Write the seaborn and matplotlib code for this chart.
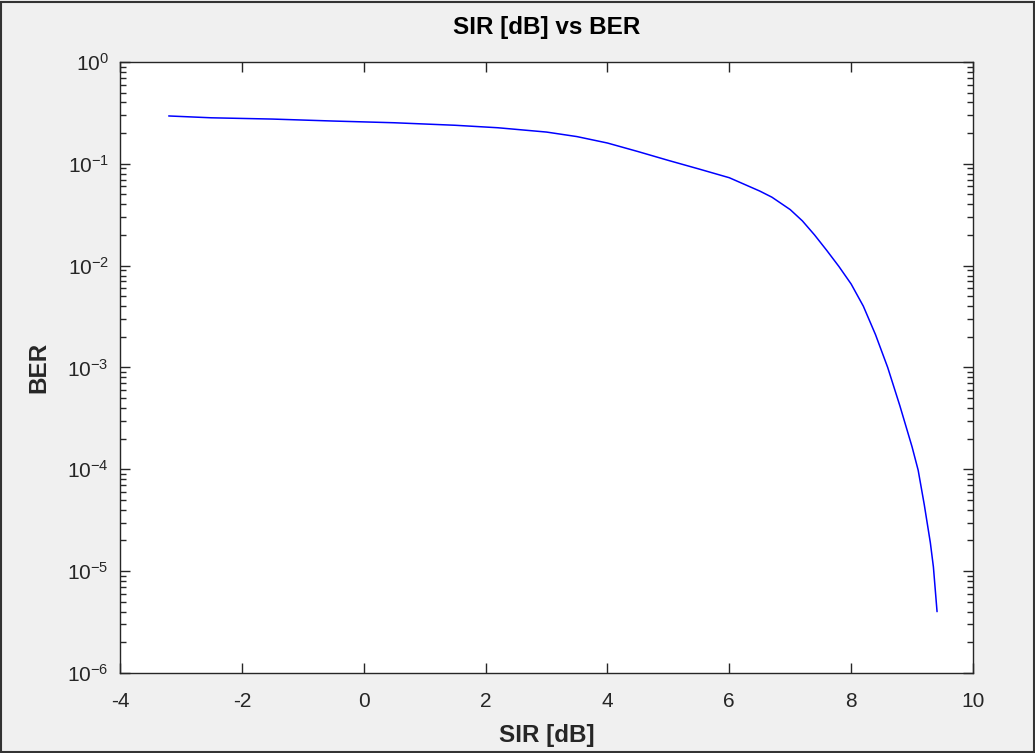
# SIR vs BER curve, MATLAB-style figure
import numpy as np
import pandas as pd
import seaborn as sns
import matplotlib.pyplot as plt
from matplotlib.patches import Rectangle

# values
sir_db = [-3.2, -2.5, -1.5, -0.5, 0.5, 1.5, 2.2, 3.0, 3.5, 4.0, 4.5, 5.0, 5.5,
          6.0, 6.5, 6.7, 7.0, 7.2, 7.4, 7.6, 7.8, 8.0, 8.2, 8.4, 8.6, 8.8,
          9.0, 9.1, 9.2, 9.3, 9.35, 9.41]
ber = [0.295, 0.283, 0.275, 0.263, 0.253, 0.239, 0.226, 0.205, 0.185, 0.16,
       0.132, 0.108, 0.089, 0.073, 0.054, 0.047, 0.0355, 0.0275, 0.020, 0.0141,
       0.0098, 0.0066, 0.0040, 0.0021, 0.0010, 0.00042, 0.000166, 9.8e-5,
       4.5e-5, 1.9e-5, 1.1e-5, 4e-6]
x_ticks = [-4, -2, 0, 2, 4, 6, 8, 10]

df = pd.DataFrame({'SIR': sir_db, 'BER': ber})

sns.set_style('ticks')
plt.rcParams['font.family'] = ['Liberation Sans', 'DejaVu Sans']
plt.rcParams['mathtext.default'] = 'regular'
dark = '#262626'

fig = plt.figure(figsize=(10.35, 7.53), dpi=100, facecolor='#f0f0f0')
fig.patches.append(Rectangle((0.001, 0.001), 0.998, 0.997, transform=fig.transFigure,
                             fill=False, edgecolor='#333333', linewidth=1.5))
ax = fig.add_axes([0.1159, 0.1063, 0.8242, 0.8114])
ax.set_facecolor('white')

sns.lineplot(data=df, x='SIR', y='BER', color='blue', linewidth=1.1, ax=ax)

ax.set_yscale('log')
ax.set_xlim(-4, 10)
ax.set_ylim(1e-6, 1)
ax.set_xticks(x_ticks)
ax.set_xticklabels([str(t) for t in x_ticks])
ax.set_yticks([10.0 ** k for k in range(-6, 1)])

for s in ax.spines.values():
    s.set_visible(True)
    s.set_color(dark)
    s.set_linewidth(1.0)

ax.tick_params(which='both', direction='in', top=True, right=True,
               colors=dark, labelcolor=dark, labelsize=15)
ax.tick_params(which='major', length=7, width=1)
ax.tick_params(which='minor', length=4, width=1)
ax.tick_params(axis='x', which='major', pad=14)
ax.tick_params(axis='y', which='major', pad=8)
ax.tick_params(axis='x', which='minor', bottom=False, top=False)

ax.set_title('SIR [dB] vs BER', fontsize=17.5, fontweight='bold', color='black', pad=20)
ax.set_xlabel('SIR [dB]', fontsize=17.5, fontweight='bold', color=dark, labelpad=9)
ax.set_ylabel('BER', fontsize=17.5, fontweight='bold', color=dark, labelpad=12)

fig.savefig('out.png', dpi=100, facecolor=fig.get_facecolor())
